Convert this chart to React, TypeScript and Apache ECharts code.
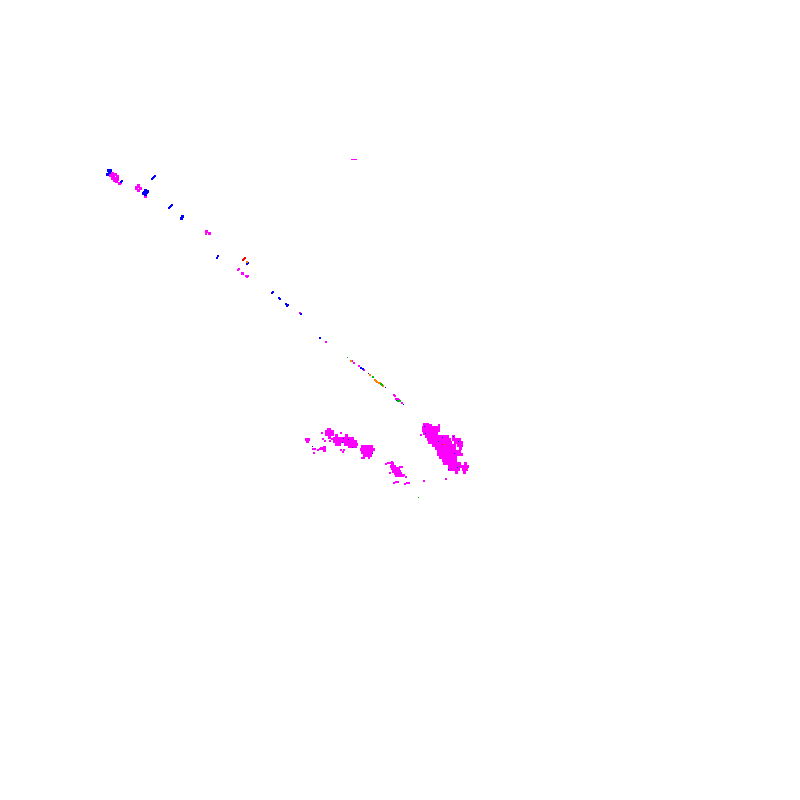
import React, { useEffect, useRef } from "react";
import * as echarts from "echarts";

type P = [number, number];

const magentaBlob: P[] = [
  // main cluster, right
  [424,424],[427,424],[430,425],
  [423,427],[426,427],[429,427],[432,427],[435,427],[438,427],
  [423,430],[426,430],[429,430],[432,430],[435,430],[438,430],
  [424,433],[427,433],[430,433],[433,433],[436,433],
  [426,436],[429,436],[432,436],[435,436],[438,436],[441,436],[444,436],[447,436],[453,436],
  [428,439],[431,439],[434,439],[437,439],[440,439],[443,439],[446,439],[449,439],[453,439],[456,439],[459,439],
  [429,442],[432,442],[435,442],[438,442],[441,442],[444,442],[447,442],[450,442],[455,442],[458,442],[461,442],
  [433,445],[436,445],[439,445],[442,445],[445,445],[448,445],[451,445],[454,445],[458,445],[461,445],
  [436,448],[439,448],[442,448],[445,448],[448,448],[451,448],[454,448],[460,448],
  [438,451],[441,451],[444,451],[447,451],[450,451],[453,451],[456,451],[459,451],
  [438,454],[441,454],[444,454],[447,454],[450,454],[453,454],[456,454],[459,454],[461,454],
  [440,457],[443,457],[446,457],[449,457],[452,457],[455,457],
  [443,460],[446,460],[449,460],[452,460],[455,460],
  [444,463],[447,463],[450,463],[453,463],[456,463],[459,463],[465,463],
  [449,466],[452,466],[455,466],[458,466],[461,466],[464,466],[467,466],
  [449,469],[452,469],[455,469],[458,469],[463,469],[466,469],
  [456,472],[464,472],
  // left clusters
  [326,431],[329,431],[332,431],[326,434],[329,434],[332,434],[329,437],
  [336,435],[346,435],
  [334,438],[337,438],[340,438],[343,438],[346,438],[349,438],[352,438],
  [334,441],[337,441],[340,441],[343,441],[346,441],[349,441],[352,441],[355,441],
  [336,444],[339,444],[345,444],[348,444],[351,444],[354,444],[356,444],
  [349,446],[352,446],[355,446],
  [362,446],[365,446],[368,446],[371,446],
  [361,449],[364,449],[367,449],[370,449],[373,449],
  [362,452],[365,452],[368,452],[371,452],
  [364,455],[367,455],[370,455],
  [392,463],[391,466],[394,466],[392,468],[395,468],[398,468],
  [393,471],[396,471],[399,471],[395,473],[398,473],[400,473],[396,475],[399,475],[402,475],
  [306,439],[308,439],[307,441],
  [321,448],[324,447],[324,450],
  // upper left
  [110,175],[112,173],[113,176],[115,174],[115,178],[117,176],[117,179],[112,178],[114,180],[116,181],
  [119,183],[136,187],[138,185],[138,190],[140,188],[145,196],
  [206,231],[209,233],[242,273],
];

const magentaDots: P[] = [
  [327,428],[329,428],[321,432],[322,438],[324,440],[329,440],[331,438],[340,432],
  [312,448],[314,448],[317,449],[319,448],[313,452],[340,449],[342,451],[343,449],
  [361,457],[363,457],[368,457],[385,463],[387,462],[389,462],[391,461],[399,466],[401,466],
  [403,474],[389,472],[393,482],[395,481],[397,481],[404,483],
  [420,434],[438,424],[445,478],[408,482],[406,482],[405,476],[423,480],
  [120,182],[135,188],[137,186],[205,233],[237,269],[238,268],[245,275],[247,275],[246,276],
  [299,312],[325,341],[351,360],[353,362],[358,365],[363,369],[393,394],[394,395],[395,398],[397,398],[398,399],[401,402],
];

const magentaThin: P[] = [[351,159],[352,159],[353,159],[354,159],[355,159],[356,159]];

const blueBlob: P[] = [
  [107,174],[109,172],[110,170],[108,170],[144,192],[146,192],[145,190],[147,191],[143,193],[145,194],[181,218],[182,216],
];

const blueDots: P[] = [
  [121,180],[120,181],[151,178],[152,177],[153,176],[154,175],
  [168,207],[169,206],[170,205],[171,204],
  [216,257],[217,255],[247,262],[246,263],
  [271,292],[272,291],[278,297],[279,298],[285,303],[286,305],[287,304],
  [300,313],[319,337],[360,367],[362,368],
];

const blueSingles: P[] = [
  [368,373],[385,387],[396,400],[403,404],
  [343,438],[348,439],[352,447],[372,453],[342,442],[312,446],
  [424,426],[425,433],[438,441],[453,436],[458,441],[442,437],[454,453],[448,469],[457,467],
];

const redDots: P[] = [[243,258],[244,257],[242,259]];
const redSingles: P[] = [[442,444]];
const orangeDots: P[] = [[246,261],[350,360],[369,374],[374,379],[375,380],[376,381],[378,382],[379,382],[382,385]];
const orangeSingles: P[] = [[205,233],[444,444],[467,469]];
const greenDots: P[] = [[372,376],[380,383],[381,384],[397,400],[399,400]];
const greenSingles: P[] = [[347,357],[458,466],[418,497]];

const offset = [0.5, 0.5];
const MAGENTA = "#ff00ff";
const BLUE = "#0000ff";
const RED = "#ff0000";
const ORANGE = "#ff8000";
const GREEN = "#00c000";

export default function App() {
  const ref = useRef<HTMLDivElement>(null);
  useEffect(() => {
    const chart = echarts.init(ref.current!, undefined, { renderer: "svg" });
    const mk = (name: string, data: P[], color: string, size: number) => ({
      type: "scatter",
      name,
      data,
      symbol: "rect",
      silent: true,
      symbolSize: size,
      symbolOffset: size === 2 ? offset : [0, 0],
      itemStyle: { opacity: 1, borderWidth: 0, color },
    });
    chart.setOption({
      animation: false,
      backgroundColor: "#ffffff",
      grid: { left: 0, right: 0, top: 0, bottom: 0 },
      xAxis: { type: "value", min: -0.5, max: 799.5, show: false },
      yAxis: { type: "value", min: -0.5, max: 799.5, inverse: true, show: false },
      series: [
        mk("magenta blob", magentaBlob, MAGENTA, 3),
        mk("magenta", magentaDots, MAGENTA, 2),
        mk("magenta thin", magentaThin, MAGENTA, 1),
        mk("blue blob", blueBlob, BLUE, 3),
        mk("blue", blueDots, BLUE, 2),
        mk("blue single", blueSingles, BLUE, 1),
        mk("red", redDots, RED, 2),
        mk("red single", redSingles, RED, 1),
        mk("orange", orangeDots, ORANGE, 2),
        mk("orange single", orangeSingles, ORANGE, 1),
        mk("green", greenDots, GREEN, 2),
        mk("green single", greenSingles, GREEN, 1),
      ],
    });
    return () => chart.dispose();
  }, []);
  return <div ref={ref} style={{ position: "absolute", left: 0, top: 0, width: 800, height: 800 }} />;
}
